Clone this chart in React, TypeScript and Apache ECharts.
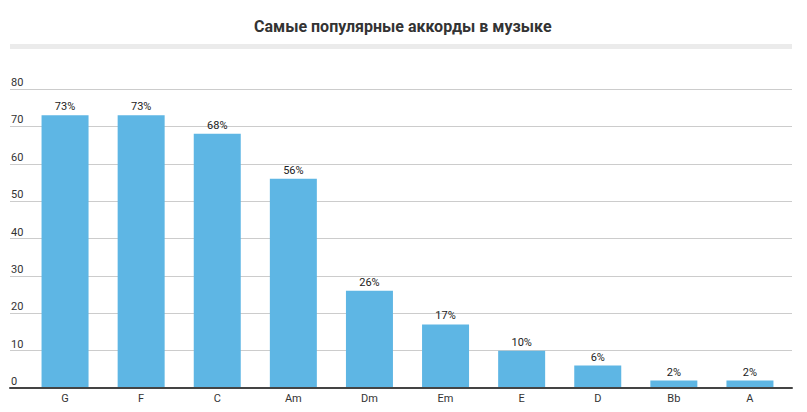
import React, { useEffect, useRef } from "react";
import * as echarts from "echarts";

const categories = ["G", "F", "C", "Am", "Dm", "Em", "E", "D", "Bb", "A"];
const values = [73, 73, 68, 56, 26, 17, 10, 6, 2, 2];
const titleText = "Самые популярные аккорды в музыке";

export default function App() {
  const ref = useRef<HTMLDivElement>(null);
  useEffect(() => {
    if (!ref.current) return;
    const chart = echarts.init(ref.current, null, { renderer: "svg" });
    chart.setOption({
      animation: false,
      backgroundColor: "#ffffff",
      title: {
        text: titleText,
        left: 241,
        top: 5,
        textStyle: {
          fontFamily: "Roboto",
          fontWeight: "bold",
          fontSize: 16,
          color: "#333333",
        },
      },
      graphic: [
        {
          type: "rect",
          shape: { x: 2, y: 36, width: 782, height: 5 },
          style: { fill: "#ebebeb" },
        },
      ],
      grid: [
        { left: 2, right: 15, top: 81, bottom: 24 },
        { left: 19, right: 19, top: 81, bottom: 24 },
      ],
      xAxis: [
        {
          type: "value",
          gridIndex: 0,
          min: 0,
          max: 1,
          z: 5,
          axisLine: { show: true, lineStyle: { color: "#444444", width: 2 } },
          axisTick: { show: false },
          axisLabel: { show: false },
          splitLine: { show: false },
        },
        {
          type: "category",
          gridIndex: 1,
          data: categories,
          axisLine: { show: false },
          axisTick: { show: false },
          axisLabel: {
            fontFamily: "Roboto",
            fontSize: 11,
            color: "#333333",
            margin: 5,
          },
        },
      ],
      yAxis: [
        {
          type: "value",
          gridIndex: 0,
          min: 0,
          max: 80,
          interval: 10,
          axisLine: { show: false },
          axisTick: { show: false },
          axisLabel: {
            inside: true,
            margin: 1,
            verticalAlign: "bottom",
            padding: [0, 0, 1, 0],
            fontFamily: "Roboto",
            fontSize: 11,
            color: "#333333",
          },
          splitLine: { show: true, lineStyle: { color: "#cccccc", width: 1 } },
        },
        {
          type: "value",
          gridIndex: 1,
          min: 0,
          max: 80,
          interval: 10,
          show: false,
          splitLine: { show: false },
        },
      ],
      series: [
        {
          type: "bar",
          xAxisIndex: 1,
          yAxisIndex: 1,
          data: values,
          barWidth: 47,
          itemStyle: { color: "#5eb6e4" },
          label: {
            show: true,
            position: "top",
            distance: 3,
            formatter: "{c}%",
            fontFamily: "Roboto",
            fontSize: 11,
            color: "#222222",
          },
        },
      ],
    });
    return () => chart.dispose();
  }, []);
  return <div ref={ref} style={{ width: 799, height: 404 }} />;
}
